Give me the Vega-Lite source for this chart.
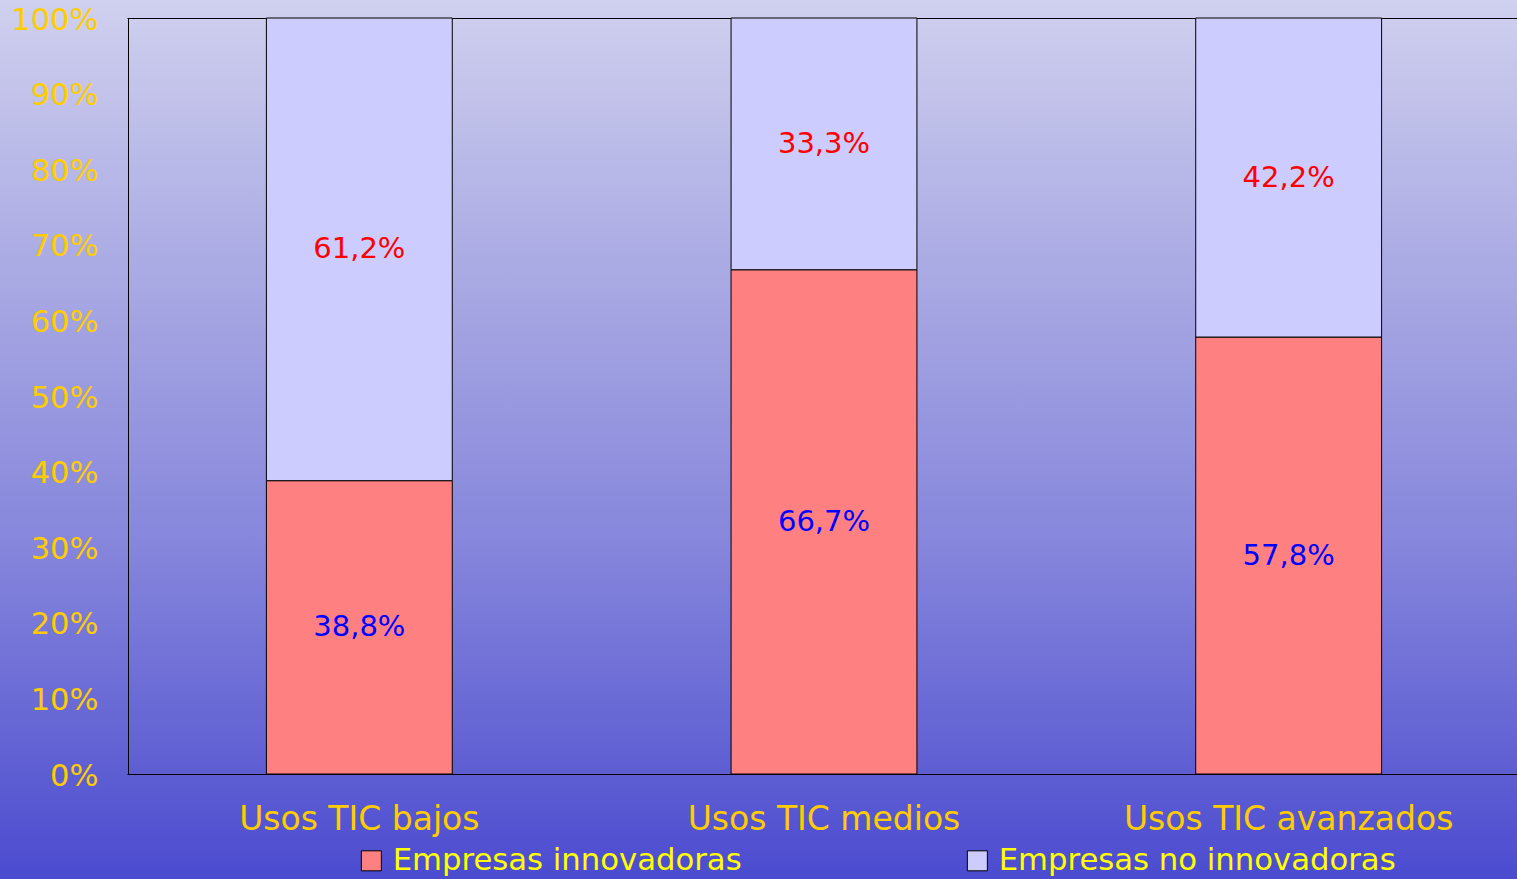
{
  "$schema": "https://vega.github.io/schema/vega-lite/v6.json",
  "width": 1517,
  "height": 879,
  "autosize": {"type": "none"},
  "padding": 0,
  "background": "#4b4bd0",
  "config": {
    "locale": {"number": {"decimal": ",", "thousands": ".", "grouping": [3], "currency": ["", " €"]}},
    "view": {
      "stroke": null,
      "fill": {
        "gradient": "linear", "x1": 0, "y1": 0, "x2": 0, "y2": 1,
        "stops": [
          {"offset": 0, "color": "#d0d0ef"},
          {"offset": 0.125, "color": "#c0c0ea"},
          {"offset": 0.375, "color": "#a2a2e2"},
          {"offset": 0.625, "color": "#8585dc"},
          {"offset": 0.853, "color": "#6262d4"},
          {"offset": 1, "color": "#4b4bd0"}
        ]
      }
    }
  },
  "data": {
    "values": [
      {"uso": "Usos TIC bajos", "tipo": "Empresas innovadoras", "valor": 0.388},
      {"uso": "Usos TIC bajos", "tipo": "Empresas no innovadoras", "valor": 0.612},
      {"uso": "Usos TIC medios", "tipo": "Empresas innovadoras", "valor": 0.667},
      {"uso": "Usos TIC medios", "tipo": "Empresas no innovadoras", "valor": 0.333},
      {"uso": "Usos TIC avanzados", "tipo": "Empresas innovadoras", "valor": 0.578},
      {"uso": "Usos TIC avanzados", "tipo": "Empresas no innovadoras", "valor": 0.422}
    ]
  },
  "encoding": {
    "x": {
      "field": "uso", "type": "nominal", "sort": null,
      "scale": {"range": [127, 1521], "paddingInner": 0.6, "paddingOuter": 0.3},
      "axis": {
        "orient": "bottom", "offset": -105, "title": null, "ticks": false,
        "labelPadding": 29, "labelAngle": 0, "labelFont": "DejaVu Sans",
        "labelFontSize": 33, "labelColor": "#ffcc00", "labelLimit": 600,
        "domainColor": "black", "domainWidth": 1, "grid": false
      }
    },
    "y": {
      "field": "valor", "type": "quantitative", "stack": "zero",
      "scale": {"domain": [0, 1], "range": [774, 18], "nice": false},
      "axis": {
        "orient": "left", "offset": -128, "title": null,
        "values": [0, 0.1, 0.2, 0.3, 0.4, 0.5, 0.6, 0.7, 0.8, 0.9, 1],
        "format": ".0%", "ticks": false, "labelPadding": 30, "labelOffset": 2,
        "labelFont": "DejaVu Sans", "labelFontSize": 30.5, "labelColor": "#ffcc00",
        "domainColor": "black", "domainWidth": 1,
        "grid": true, "gridWidth": 1,
        "gridColor": {"condition": {"test": "datum.value >= 0.999", "value": "black"}, "value": "transparent"}
      }
    },
    "order": {"field": "tipo", "sort": "ascending"}
  },
  "layer": [
    {
      "mark": {"type": "bar", "stroke": "black", "strokeWidth": 1},
      "encoding": {
        "color": {
          "field": "tipo", "type": "nominal",
          "scale": {"domain": ["Empresas innovadoras", "Empresas no innovadoras"], "range": ["#ff8080", "#ccccff"]},
          "legend": {
            "orient": "none", "legendX": 356, "legendY": 845, "direction": "horizontal",
            "title": null, "symbolType": "square", "symbolSize": 400,
            "symbolStrokeColor": "black", "symbolStrokeWidth": 1,
            "labelFont": "DejaVu Sans", "labelFontSize": 30.7, "labelColor": "#ffff00",
            "labelLimit": 600, "labelOffset": 6, "columnPadding": 220, "padding": 0
          }
        }
      }
    },
    {
      "mark": {"type": "text", "font": "DejaVu Sans", "fontSize": 29},
      "encoding": {
        "y": {"field": "valor", "type": "quantitative", "stack": "zero", "bandPosition": 0.5},
        "text": {"field": "valor", "type": "quantitative", "format": ".1%"},
        "color": {"condition": {"test": "datum.tipo === 'Empresas innovadoras'", "value": "#0000ff"}, "value": "#ff0000"}
      }
    }
  ]
}
